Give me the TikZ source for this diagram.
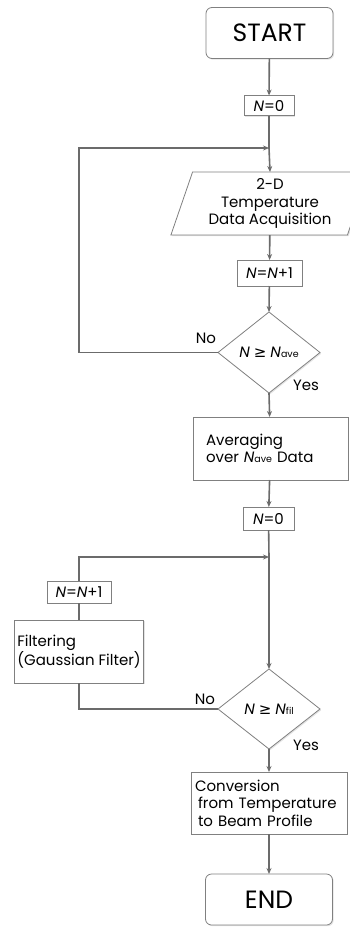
\documentclass[tikz,border=0pt]{standalone}
\usepackage{fontspec}
\setmainfont{Poppins}
\newfontfamily\symfont{DejaVu Sans}
\usetikzlibrary{shapes.geometric,arrows.meta,shadows}

\colorlet{flow line color}{black!58}
\colorlet{box border color}{black!50}
\newcommand{\cnt}{\textit{N}}
\newcommand{\geqsym}{{\symfont ≥}}
\newcommand{\lowsub}[1]{{\fontsize{9.5}{10}\selectfont #1}}
\tikzset{
    x={1pt},
    y={-1pt},
    flow/.style={
        draw=flow line color,
        line width={1.6pt},
    },
    flow arrow/.style={
        flow,
        -{Stealth[length=6pt,width=5pt]},
    },
    box/.style={
        draw=box border color, fill=white,
        line width={0.8pt},
        drop shadow={opacity=0.22, shadow xshift=1.2pt, shadow yshift=-1.2pt},
        inner sep=0pt, outer sep=0pt,
        align=center,
        font={\fontsize{15}{17.5}\selectfont},
    },
    terminal/.style={
        box, rounded corners={6pt},
        minimum width={127},
        minimum height={51},
        font={\fontsize{25}{28}\selectfont},
    },
    counter/.style 2 args={
        box, rectangle,
        minimum width={#1},
        minimum height={#2},
    },
    process/.style={
        box, rectangle,
        text width={#1},
        align=left,
    },
    io/.style={
        box, trapezium,
        trapezium left angle=71,
        trapezium right angle=109,
        minimum width={180},
        minimum height={63},
    },
    decision/.style={
        box, diamond,
        aspect=1.26,
        minimum width={102},
        minimum height={81},
    },
    answer/.style={
        font={\fontsize{15}{17.5}\selectfont},
        inner sep=0pt,
    },
}

\begin{document}
\begin{tikzpicture}
\useasboundingbox (0,0) rectangle (350,927);
% averaging loop
\node[terminal] (start) at (269.5,33) {START};
\node[counter={50}{20}] (init ave) at (269,105.5) {\cnt=0};
\coordinate (join ave) at (269,148);
\node[io] (acquire) at (270,203.5) {2-D\\Temperature\\Data Acquisition};
\node[counter={65}{26}] (inc ave) at (269.5,273) {\cnt=\cnt+1};
\node[decision] (check ave) at (269,352.5) {\cnt\ \geqsym\ \cnt\lowsub{ave}};
\coordinate (back ave) at (79,352.5);
\node[answer] (no ave) at (206,338) {No};
\node[answer] (yes ave) at (306,385) {Yes};
\node[process={129}, minimum width={155}, minimum height={63}] (average) at (270.5,448.5) {Averaging\\over \cnt\lowsub{ave} Data};
% filtering loop
\node[counter={51}{23}] (init fil) at (268.5,518.5) {\cnt=0};
\coordinate (join fil) at (269,557);
\node[counter={64}{22}] (inc fil) at (79,592) {\cnt=\cnt+1};
\node[box, rectangle, align=left, minimum width={129}, minimum height={63}] (filter) at (79,651.5) {Filtering\\(Gaussian Filter)};
\node[decision, minimum height={80}] (check fil) at (269,709) {\cnt\ \geqsym\ \cnt\lowsub{fil}};
\node[answer] (no fil) at (205,699) {No};
\node[answer] (yes fil) at (306,745) {Yes};
\node[process={148}, minimum width={156}, minimum height={62}] (convert) at (269,803) {Conversion\\\hspace*{3pt}from Temperature\\\hspace*{3pt}to Beam Profile};
\node[terminal] (end) at (269,899.5) {END};
% connectors
\draw[flow arrow] (start) -- (init ave);
\draw[flow] (init ave) -- (join ave);
\draw[flow arrow] (join ave) -- (acquire.north);
\draw[flow arrow] (acquire) -- (inc ave);
\draw[flow arrow] (inc ave) -- (check ave.north);
\draw[flow arrow] (check ave.west) -- (back ave) |- (join ave);
\draw[flow arrow] (check ave.south) -- (average);
\draw[flow arrow] (average) -- (init fil);
\draw[flow] (init fil) -- (join fil);
\draw[flow arrow] (join fil) -- (check fil.north);
\draw[flow] (check fil.west) -| (filter.south);
\draw[flow] (filter) -- (inc fil);
\draw[flow arrow] (inc fil.north) |- (join fil);
\draw[flow arrow] (check fil.south) -- (convert);
\draw[flow arrow] (convert) -- (end);
\end{tikzpicture}
\end{document}
